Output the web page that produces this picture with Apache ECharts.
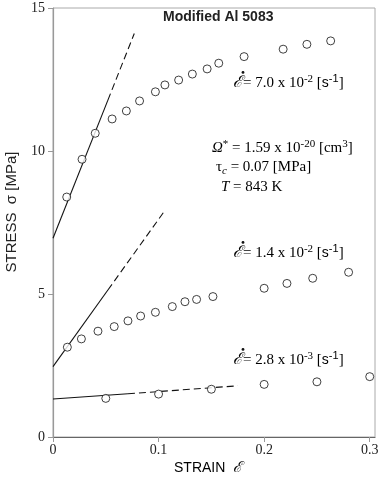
<!DOCTYPE html>
<html><head><meta charset="utf-8">
<script src="https://cdn.jsdelivr.net/npm/echarts@6/dist/echarts.min.js"></script>
<style>html,body{margin:0;padding:0;background:#fff}#c{width:382px;height:479px}</style>
</head><body><div id="c"></div>
<script>
// strain rate 7.0e-2
const strain1 = [0.013,0.0275,0.040,0.056,0.0695,0.082,0.097,0.106,0.119,0.132,0.146,0.157,0.181,0.218,0.2405,0.263];
const stress1 = [8.39,9.71,10.62,11.12,11.40,11.75,12.07,12.31,12.48,12.69,12.87,13.07,13.30,13.56,13.73,13.85];
// strain rate 1.4e-2
const strain2 = [0.0136,0.0269,0.0426,0.058,0.071,0.083,0.097,0.113,0.125,0.136,0.1515,0.200,0.2216,0.246,0.280];
const stress2 = [3.14,3.43,3.70,3.86,4.06,4.23,4.36,4.56,4.73,4.81,4.91,5.20,5.37,5.55,5.76];
// strain rate 2.8e-3
const strain3 = [0.05,0.10,0.15,0.20,0.25,0.30];
const stress3 = [1.35,1.50,1.67,1.84,1.93,2.11];
// fitted lines (strain, stress)
const fit1Solid = [[0,6.95],[0.052,11.78]];
const fit1Dash  = [[0.052,11.78],[0.077,14.11]];
const fit2Solid = [[0,2.46],[0.052,5.14]];
const fit2Dash  = [[0.052,5.14],[0.1064,7.94]];
const fit3Solid = [[0,1.33],[0.071,1.51]];
const fit3Dash  = [[0.071,1.51],[0.175,1.79]];
const xTickLabels = {0:'0',0.1:'0.1',0.2:'0.2',0.3:'0.3'};
const yTickLabels = {0:'0',5:'5',10:'10',15:'15'};

const zip = (a,b)=>a.map((v,i)=>[v,b[i]]);
const serif = "'Liberation Serif','Times New Roman',serif";
const sans = "'Liberation Sans',Arial,sans-serif";

function scatter(data){
  return {type:'scatter',data,symbol:'circle',symbolSize:8,
    itemStyle:{color:'#fff',borderColor:'#111',borderWidth:1},z:5};
}
function line(data,dashed){
  return {type:'line',data,symbol:'none',
    lineStyle:{color:'#111',width:1.1,type:dashed?[7,4]:'solid'},z:3};
}
const chart = echarts.init(document.getElementById('c'));
const rateRich = {
  n:{fontFamily:serif,fontSize:15,lineHeight:18,color:'#111'},
  e:{fontFamily:serif,fontSize:16,fontStyle:'italic',lineHeight:18,color:'#111'},
  s:{fontFamily:sans,fontSize:14,lineHeight:18,color:'#111'},
  sup:{fontFamily:serif,fontSize:11,lineHeight:10,verticalAlign:'top',color:'#111'},
  ssup:{fontFamily:sans,fontSize:11,lineHeight:10,verticalAlign:'top',color:'#111'},
  i:{fontFamily:serif,fontSize:15,fontStyle:'italic',lineHeight:18,color:'#111'},
  sub:{fontFamily:serif,fontSize:11,fontStyle:'italic',lineHeight:10,verticalAlign:'bottom',color:'#111'}
};
function rateText(x,y,mant,exp){
  return {type:'group',left:x,top:y-3,children:[
    {type:'text',x:0,y:3,style:{
      text:'{e|ℰ}{n|= '+mant+' x 10}{sup|'+exp+'}{n| [}{s|s}{ssup|-1}{n|]}',
      rich:rateRich}},
    {type:'circle',shape:{cx:10,cy:1.5,r:1.4},style:{fill:'#111'}}
  ]};
}
chart.setOption({
  animation:false,
  grid:{left:53,top:8,right:7,bottom:42,show:true,borderColor:'#aaa',borderWidth:1},
  xAxis:{type:'value',min:0,max:0.305,interval:0.1,
    axisLine:{lineStyle:{color:'#666',width:1.2}},
    axisTick:{show:true,length:5,lineStyle:{color:'#999'}},
    splitLine:{show:false},
    axisLabel:{showMaxLabel:false,fontFamily:serif,fontSize:14,color:'#222',margin:6,
      formatter:v=>{const k=Math.round(v*10)/10;return xTickLabels[k]!==undefined?xTickLabels[k]:'';}}},
  yAxis:{type:'value',min:0,max:15,interval:5,
    axisLine:{show:true,lineStyle:{color:'#999',width:1.2}},
    axisTick:{show:true,length:5,lineStyle:{color:'#999'}},
    splitLine:{show:false},
    axisLabel:{fontFamily:serif,fontSize:14,color:'#222',margin:8,
      formatter:v=>yTickLabels[v]!==undefined?yTickLabels[v]:''}},
  series:[
    line(fit1Solid,false),line(fit1Dash,true),
    line(fit2Solid,false),line(fit2Dash,true),
    line(fit3Solid,false),line(fit3Dash,true),
    scatter(zip(strain1,stress1)),scatter(zip(strain2,stress2)),scatter(zip(strain3,stress3))
  ],
  graphic:[
    {type:'text',left:163,top:10,style:{text:'Modified Al 5083',font:"bold 14px "+sans,fill:'#222'}},
    rateText(233,74,'7.0','-2'),
    rateText(233,244,'1.4','-2'),
    rateText(233,351,'2.8','-3'),
    {type:'text',left:212,top:139,style:{text:'{i|Ω}{sup|*}{n| = 1.59 x 10}{sup|-20}{n| [cm}{sup|3}{n|]}',rich:rateRich}},
    {type:'text',left:216,top:160,style:{text:'{n|τ}{sub|c}{n| = 0.07 [MPa]}',rich:rateRich}},
    {type:'text',left:221,top:180,style:{text:'{i|T}{n| = 843 K}',rich:rateRich}},
    {type:'text',left:174,top:461,style:{text:'{a|STRAIN  }{e|ℰ}',rich:{
      a:{fontFamily:sans,fontSize:14,color:'#222'},
      e:{fontFamily:serif,fontSize:15,fontStyle:'italic',color:'#222'}}}},
    {type:'text',x:12,y:212,rotation:Math.PI/2,style:{text:'STRESS  σ [MPa]',font:"15px "+sans,fill:'#222',
      align:'center',verticalAlign:'middle'}}
  ]
});
</script></body></html>
